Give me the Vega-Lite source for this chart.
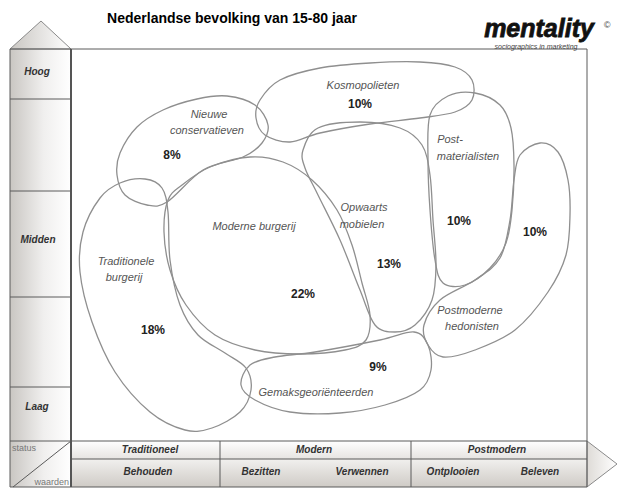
{
  "$schema": "https://vega.github.io/schema/vega-lite/v6.json",
  "width": 620,
  "height": 494,
  "padding": 0,
  "autosize": "none",
  "background": "white",
  "view": {"stroke": null},
  "config": {"font": "Liberation Sans"},
  "datasets": {
    "blobs": [
      {"seg":"K","i":0,"x":260,"y":100},{"seg":"K","i":1,"x":280,"y":80},{"seg":"K","i":2,"x":320,"y":68},{"seg":"K","i":3,"x":370,"y":63},{"seg":"K","i":4,"x":420,"y":62},{"seg":"K","i":5,"x":455,"y":67},{"seg":"K","i":6,"x":472,"y":80},{"seg":"K","i":7,"x":472,"y":100},{"seg":"K","i":8,"x":455,"y":112},{"seg":"K","i":9,"x":420,"y":118},{"seg":"K","i":10,"x":370,"y":124},{"seg":"K","i":11,"x":320,"y":133},{"seg":"K","i":12,"x":290,"y":142},{"seg":"K","i":13,"x":265,"y":135},{"seg":"K","i":14,"x":256,"y":118},
      {"seg":"N","i":0,"x":120,"y":153},{"seg":"N","i":1,"x":137,"y":127},{"seg":"N","i":2,"x":163,"y":110},{"seg":"N","i":3,"x":197,"y":99},{"seg":"N","i":4,"x":227,"y":96},{"seg":"N","i":5,"x":255,"y":105},{"seg":"N","i":6,"x":268,"y":125},{"seg":"N","i":7,"x":262,"y":143},{"seg":"N","i":8,"x":243,"y":157},{"seg":"N","i":9,"x":203,"y":170},{"seg":"N","i":10,"x":167,"y":202},{"seg":"N","i":11,"x":147,"y":205},{"seg":"N","i":12,"x":125,"y":195},{"seg":"N","i":13,"x":117,"y":175},
      {"seg":"M","i":0,"x":168,"y":200},{"seg":"M","i":1,"x":182,"y":185},{"seg":"M","i":2,"x":210,"y":167},{"seg":"M","i":3,"x":250,"y":157},{"seg":"M","i":4,"x":283,"y":162},{"seg":"M","i":5,"x":312,"y":180},{"seg":"M","i":6,"x":337,"y":210},{"seg":"M","i":7,"x":352,"y":245},{"seg":"M","i":8,"x":362,"y":283},{"seg":"M","i":9,"x":370,"y":315},{"seg":"M","i":10,"x":366,"y":340},{"seg":"M","i":11,"x":345,"y":350},{"seg":"M","i":12,"x":300,"y":354},{"seg":"M","i":13,"x":255,"y":350},{"seg":"M","i":14,"x":215,"y":335},{"seg":"M","i":15,"x":186,"y":305},{"seg":"M","i":16,"x":170,"y":270},{"seg":"M","i":17,"x":164,"y":232},
      {"seg":"T","i":0,"x":100,"y":198},{"seg":"T","i":1,"x":120,"y":183},{"seg":"T","i":2,"x":145,"y":179},{"seg":"T","i":3,"x":162,"y":188},{"seg":"T","i":4,"x":168,"y":212},{"seg":"T","i":5,"x":170,"y":260},{"seg":"T","i":6,"x":180,"y":305},{"seg":"T","i":7,"x":198,"y":335},{"seg":"T","i":8,"x":225,"y":353},{"seg":"T","i":9,"x":246,"y":368},{"seg":"T","i":10,"x":251,"y":390},{"seg":"T","i":11,"x":240,"y":412},{"seg":"T","i":12,"x":212,"y":428},{"seg":"T","i":13,"x":185,"y":430},{"seg":"T","i":14,"x":150,"y":412},{"seg":"T","i":15,"x":115,"y":372},{"seg":"T","i":16,"x":92,"y":322},{"seg":"T","i":17,"x":80,"y":272},{"seg":"T","i":18,"x":83,"y":232},
      {"seg":"O","i":0,"x":303,"y":150},{"seg":"O","i":1,"x":318,"y":128},{"seg":"O","i":2,"x":360,"y":122},{"seg":"O","i":3,"x":400,"y":128},{"seg":"O","i":4,"x":422,"y":145},{"seg":"O","i":5,"x":430,"y":175},{"seg":"O","i":6,"x":433,"y":220},{"seg":"O","i":7,"x":436,"y":265},{"seg":"O","i":8,"x":432,"y":300},{"seg":"O","i":9,"x":415,"y":325},{"seg":"O","i":10,"x":395,"y":332},{"seg":"O","i":11,"x":375,"y":325},{"seg":"O","i":12,"x":360,"y":290},{"seg":"O","i":13,"x":340,"y":240},{"seg":"O","i":14,"x":318,"y":195},{"seg":"O","i":15,"x":305,"y":168},
      {"seg":"P","i":0,"x":430,"y":115},{"seg":"P","i":1,"x":448,"y":96},{"seg":"P","i":2,"x":475,"y":93},{"seg":"P","i":3,"x":500,"y":105},{"seg":"P","i":4,"x":511,"y":128},{"seg":"P","i":5,"x":514,"y":165},{"seg":"P","i":6,"x":512,"y":210},{"seg":"P","i":7,"x":506,"y":243},{"seg":"P","i":8,"x":490,"y":268},{"seg":"P","i":9,"x":465,"y":285},{"seg":"P","i":10,"x":443,"y":283},{"seg":"P","i":11,"x":435,"y":260},{"seg":"P","i":12,"x":430,"y":210},{"seg":"P","i":13,"x":428,"y":160},
      {"seg":"H","i":0,"x":520,"y":155},{"seg":"H","i":1,"x":540,"y":143},{"seg":"H","i":2,"x":558,"y":152},{"seg":"H","i":3,"x":568,"y":180},{"seg":"H","i":4,"x":570,"y":215},{"seg":"H","i":5,"x":566,"y":255},{"seg":"H","i":6,"x":548,"y":292},{"seg":"H","i":7,"x":515,"y":330},{"seg":"H","i":8,"x":475,"y":350},{"seg":"H","i":9,"x":443,"y":357},{"seg":"H","i":10,"x":428,"y":345},{"seg":"H","i":11,"x":424,"y":325},{"seg":"H","i":12,"x":440,"y":300},{"seg":"H","i":13,"x":475,"y":280},{"seg":"H","i":14,"x":500,"y":258},{"seg":"H","i":15,"x":510,"y":220},{"seg":"H","i":16,"x":514,"y":180},
      {"seg":"G","i":0,"x":241,"y":385},{"seg":"G","i":1,"x":250,"y":365},{"seg":"G","i":2,"x":275,"y":357},{"seg":"G","i":3,"x":315,"y":352},{"seg":"G","i":4,"x":380,"y":340},{"seg":"G","i":5,"x":414,"y":332},{"seg":"G","i":6,"x":428,"y":345},{"seg":"G","i":7,"x":431,"y":370},{"seg":"G","i":8,"x":420,"y":390},{"seg":"G","i":9,"x":385,"y":405},{"seg":"G","i":10,"x":340,"y":413},{"seg":"G","i":11,"x":290,"y":412},{"seg":"G","i":12,"x":255,"y":400}
    ],
    "labels": [
      {"t":"Kosmopolieten","x":363,"y":86,"k":"name"},{"t":"10%","x":360,"y":104,"k":"pct"},
      {"t":"Nieuwe","x":209,"y":115,"k":"name"},{"t":"conservatieven","x":207,"y":131,"k":"name"},{"t":"8%","x":172,"y":155,"k":"pct"},
      {"t":"Moderne burgerij","x":254,"y":227,"k":"name"},{"t":"22%","x":303,"y":294,"k":"pct"},
      {"t":"Traditionele","x":126,"y":262,"k":"name"},{"t":"burgerij","x":124,"y":278,"k":"name"},{"t":"18%","x":153,"y":330,"k":"pct"},
      {"t":"Opwaarts","x":364,"y":208,"k":"name"},{"t":"mobielen","x":362,"y":225,"k":"name"},{"t":"13%","x":389,"y":264,"k":"pct"},
      {"t":"Post-","x":450,"y":140,"k":"name"},{"t":"materialisten","x":468,"y":157,"k":"name"},{"t":"10%","x":459,"y":221,"k":"pct"},
      {"t":"10%","x":535,"y":232,"k":"pct"},{"t":"Postmoderne","x":470,"y":311,"k":"name"},{"t":"hedonisten","x":472,"y":327,"k":"name"},
      {"t":"9%","x":378,"y":367,"k":"pct"},{"t":"Gemaksgeoriënteerden","x":316,"y":393,"k":"name"}
    ],
    "axisText": [
      {"t":"Hoog","x":37,"y":72},{"t":"Midden","x":38,"y":240},{"t":"Laag","x":37,"y":407},
      {"t":"Traditioneel","x":150,"y":450},{"t":"Modern","x":314,"y":450},{"t":"Postmodern","x":497,"y":450},
      {"t":"Behouden","x":148,"y":472},{"t":"Bezitten","x":261,"y":472},{"t":"Verwennen","x":362,"y":472},{"t":"Ontplooien","x":453,"y":472},{"t":"Beleven","x":540,"y":472}
    ],
    "rules": [
      {"x":10,"x2":71,"y":99,"y2":99},{"x":10,"x2":71,"y":191,"y2":191},{"x":10,"x2":71,"y":297,"y2":297},{"x":10,"x2":71,"y":387,"y2":387},
      {"x":10,"x2":71,"y":49,"y2":49},{"x":10,"x2":587,"y":441,"y2":441},{"x":10,"x2":587,"y":487,"y2":487},
      {"x":71,"x2":587,"y":459,"y2":459},{"x":10,"x2":10,"y":49,"y2":487},
      {"x":220,"x2":220,"y":441,"y2":487},{"x":411,"x2":411,"y":441,"y2":487},
      {"x":71,"x2":587,"y":49,"y2":49},{"x":587,"x2":587,"y":49,"y2":487},
      {"x":13,"x2":71,"y":487,"y2":441}
    ]
  },
  "layer": [
    {
      "data": {"values": [{"x":10,"x2":71,"y":49,"y2":487}]},
      "mark": {"type":"rect","fill":{"gradient":"linear","x1":0,"y1":0,"x2":1,"y2":0,"stops":[{"offset":0,"color":"#c9c6c2"},{"offset":0.55,"color":"#f0efee"},{"offset":1,"color":"#ffffff"}]}},
      "encoding": {
        "x": {"field":"x","type":"quantitative","scale":{"domain":[0,620],"nice":false,"zero":false},"axis":null},
        "x2": {"field":"x2"},
        "y": {"field":"y","type":"quantitative","scale":{"domain":[0,494],"reverse":true,"nice":false,"zero":false},"axis":null},
        "y2": {"field":"y2"}
      }
    },
    {
      "data": {"values": [{"x":71,"x2":587,"y":441,"y2":459}]},
      "mark": {"type":"rect","fill":{"gradient":"linear","x1":0,"y1":0,"x2":0,"y2":1,"stops":[{"offset":0,"color":"#ffffff"},{"offset":1,"color":"#e6e4e1"}]}},
      "encoding": {
        "x": {"field":"x","type":"quantitative","scale":{"domain":[0,620],"nice":false,"zero":false},"axis":null},
        "x2": {"field":"x2"},
        "y": {"field":"y","type":"quantitative","scale":{"domain":[0,494],"reverse":true,"nice":false,"zero":false},"axis":null},
        "y2": {"field":"y2"}
      }
    },
    {
      "data": {"values": [{"x":71,"x2":587,"y":459,"y2":487}]},
      "mark": {"type":"rect","fill":{"gradient":"linear","x1":0,"y1":0,"x2":0,"y2":1,"stops":[{"offset":0,"color":"#f1f0ee"},{"offset":1,"color":"#cfcbc6"}]}},
      "encoding": {
        "x": {"field":"x","type":"quantitative","scale":{"domain":[0,620],"nice":false,"zero":false},"axis":null},
        "x2": {"field":"x2"},
        "y": {"field":"y","type":"quantitative","scale":{"domain":[0,494],"reverse":true,"nice":false,"zero":false},"axis":null},
        "y2": {"field":"y2"}
      }
    },
    {
      "data": {"values": [{"x":10,"y":49,"b":49},{"x":41,"y":21,"b":49},{"x":71,"y":49,"b":49}]},
      "mark": {"type":"area","stroke":"#8a8a8a","strokeWidth":1,"fill":{"gradient":"linear","x1":0,"y1":0,"x2":1,"y2":0,"stops":[{"offset":0,"color":"#c9c6c2"},{"offset":1,"color":"#ffffff"}]}},
      "encoding": {
        "x": {"field":"x","type":"quantitative","scale":{"domain":[0,620],"nice":false,"zero":false},"axis":null},
        "y": {"field":"y","type":"quantitative","scale":{"domain":[0,494],"reverse":true,"nice":false,"zero":false},"axis":null},
        "y2": {"field":"b"}
      }
    },
    {
      "data": {"values": [{"y":441,"x":587,"b":587},{"y":464,"x":617,"b":587},{"y":487,"x":587,"b":587}]},
      "mark": {"type":"area","orient":"horizontal","stroke":"#8a8a8a","strokeWidth":1,"fill":{"gradient":"linear","x1":0,"y1":0,"x2":1,"y2":0,"stops":[{"offset":0,"color":"#dedbd7"},{"offset":1,"color":"#ffffff"}]}},
      "encoding": {
        "x": {"field":"x","type":"quantitative","scale":{"domain":[0,620],"nice":false,"zero":false},"axis":null},
        "x2": {"field":"b"},
        "y": {"field":"y","type":"quantitative","scale":{"domain":[0,494],"reverse":true,"nice":false,"zero":false},"axis":null}
      }
    },
    {
      "data": {"name":"rules"},
      "mark": {"type":"rule","stroke":"#5a5a5a","strokeWidth":1},
      "encoding": {
        "x": {"field":"x","type":"quantitative","scale":{"domain":[0,620],"nice":false,"zero":false},"axis":null},
        "x2": {"field":"x2"},
        "y": {"field":"y","type":"quantitative","scale":{"domain":[0,494],"reverse":true,"nice":false,"zero":false},"axis":null},
        "y2": {"field":"y2"}
      }
    },
    {
      "data": {"values": [{"x":71,"x2":71,"y":49,"y2":487}]},
      "mark": {"type":"rule","stroke":"#555555","strokeWidth":2},
      "encoding": {
        "x": {"field":"x","type":"quantitative","scale":{"domain":[0,620],"nice":false,"zero":false},"axis":null},
        "x2": {"field":"x2"},
        "y": {"field":"y","type":"quantitative","scale":{"domain":[0,494],"reverse":true,"nice":false,"zero":false},"axis":null},
        "y2": {"field":"y2"}
      }
    },
    {
      "data": {"name":"blobs"},
      "mark": {"type":"line","interpolate":"cardinal-closed","stroke":"#8f8f8f","strokeWidth":1.3},
      "encoding": {
        "x": {"field":"x","type":"quantitative","scale":{"domain":[0,620],"nice":false,"zero":false},"axis":null},
        "y": {"field":"y","type":"quantitative","scale":{"domain":[0,494],"reverse":true,"nice":false,"zero":false},"axis":null},
        "detail": {"field":"seg"},
        "order": {"field":"i","type":"quantitative"}
      }
    },
    {
      "data": {"name":"labels"},
      "transform": [{"filter":"datum.k == 'name'"}],
      "mark": {"type":"text","fontStyle":"italic","fontSize":11,"fill":"#555555","baseline":"middle","align":"center"},
      "encoding": {
        "x": {"field":"x","type":"quantitative","scale":{"domain":[0,620],"nice":false,"zero":false},"axis":null},
        "y": {"field":"y","type":"quantitative","scale":{"domain":[0,494],"reverse":true,"nice":false,"zero":false},"axis":null},
        "text": {"field":"t"}
      }
    },
    {
      "data": {"name":"labels"},
      "transform": [{"filter":"datum.k == 'pct'"}],
      "mark": {"type":"text","fontWeight":"bold","fontSize":12,"fill":"#222222","baseline":"middle","align":"center"},
      "encoding": {
        "x": {"field":"x","type":"quantitative","scale":{"domain":[0,620],"nice":false,"zero":false},"axis":null},
        "y": {"field":"y","type":"quantitative","scale":{"domain":[0,494],"reverse":true,"nice":false,"zero":false},"axis":null},
        "text": {"field":"t"}
      }
    },
    {
      "data": {"name":"axisText"},
      "mark": {"type":"text","fontStyle":"italic","fontWeight":"bold","fontSize":10,"fill":"#333333","baseline":"middle","align":"center"},
      "encoding": {
        "x": {"field":"x","type":"quantitative","scale":{"domain":[0,620],"nice":false,"zero":false},"axis":null},
        "y": {"field":"y","type":"quantitative","scale":{"domain":[0,494],"reverse":true,"nice":false,"zero":false},"axis":null},
        "text": {"field":"t"}
      }
    },
    {
      "data": {"values": [{"t":"status","x":12,"y":448}]},
      "mark": {"type":"text","fontSize":9,"fill":"#777777","baseline":"middle","align":"left"},
      "encoding": {
        "x": {"field":"x","type":"quantitative","scale":{"domain":[0,620],"nice":false,"zero":false},"axis":null},
        "y": {"field":"y","type":"quantitative","scale":{"domain":[0,494],"reverse":true,"nice":false,"zero":false},"axis":null},
        "text": {"field":"t"}
      }
    },
    {
      "data": {"values": [{"t":"waarden","x":69,"y":482}]},
      "mark": {"type":"text","fontSize":9,"fill":"#777777","baseline":"middle","align":"right"},
      "encoding": {
        "x": {"field":"x","type":"quantitative","scale":{"domain":[0,620],"nice":false,"zero":false},"axis":null},
        "y": {"field":"y","type":"quantitative","scale":{"domain":[0,494],"reverse":true,"nice":false,"zero":false},"axis":null},
        "text": {"field":"t"}
      }
    },
    {
      "data": {"values": [{"t":"Nederlandse bevolking van 15-80 jaar","x":232,"y":19}]},
      "mark": {"type":"text","fontWeight":"bold","fontSize":14,"fill":"#000000","baseline":"middle","align":"center"},
      "encoding": {
        "x": {"field":"x","type":"quantitative","scale":{"domain":[0,620],"nice":false,"zero":false},"axis":null},
        "y": {"field":"y","type":"quantitative","scale":{"domain":[0,494],"reverse":true,"nice":false,"zero":false},"axis":null},
        "text": {"field":"t"}
      }
    },
    {
      "data": {"values": [{"t":"mentality","x":539,"y":29}]},
      "mark": {"type":"text","fontWeight":"bold","fontStyle":"italic","fontSize":25,"fill":"#111111","baseline":"middle","align":"center","stroke":"#111111","strokeWidth":0.8},
      "encoding": {
        "x": {"field":"x","type":"quantitative","scale":{"domain":[0,620],"nice":false,"zero":false},"axis":null},
        "y": {"field":"y","type":"quantitative","scale":{"domain":[0,494],"reverse":true,"nice":false,"zero":false},"axis":null},
        "text": {"field":"t"}
      }
    },
    {
      "data": {"values": [{"t":"©","x":607,"y":25,"s":9},{"t":"sociographics in marketing","x":536,"y":46.5,"s":7}]},
      "mark": {"type":"text","fontStyle":"italic","fill":"#444444","baseline":"middle","align":"center"},
      "encoding": {
        "x": {"field":"x","type":"quantitative","scale":{"domain":[0,620],"nice":false,"zero":false},"axis":null},
        "y": {"field":"y","type":"quantitative","scale":{"domain":[0,494],"reverse":true,"nice":false,"zero":false},"axis":null},
        "text": {"field":"t"},
        "size": {"field":"s","type":"quantitative","scale":null}
      }
    }
  ]
}
